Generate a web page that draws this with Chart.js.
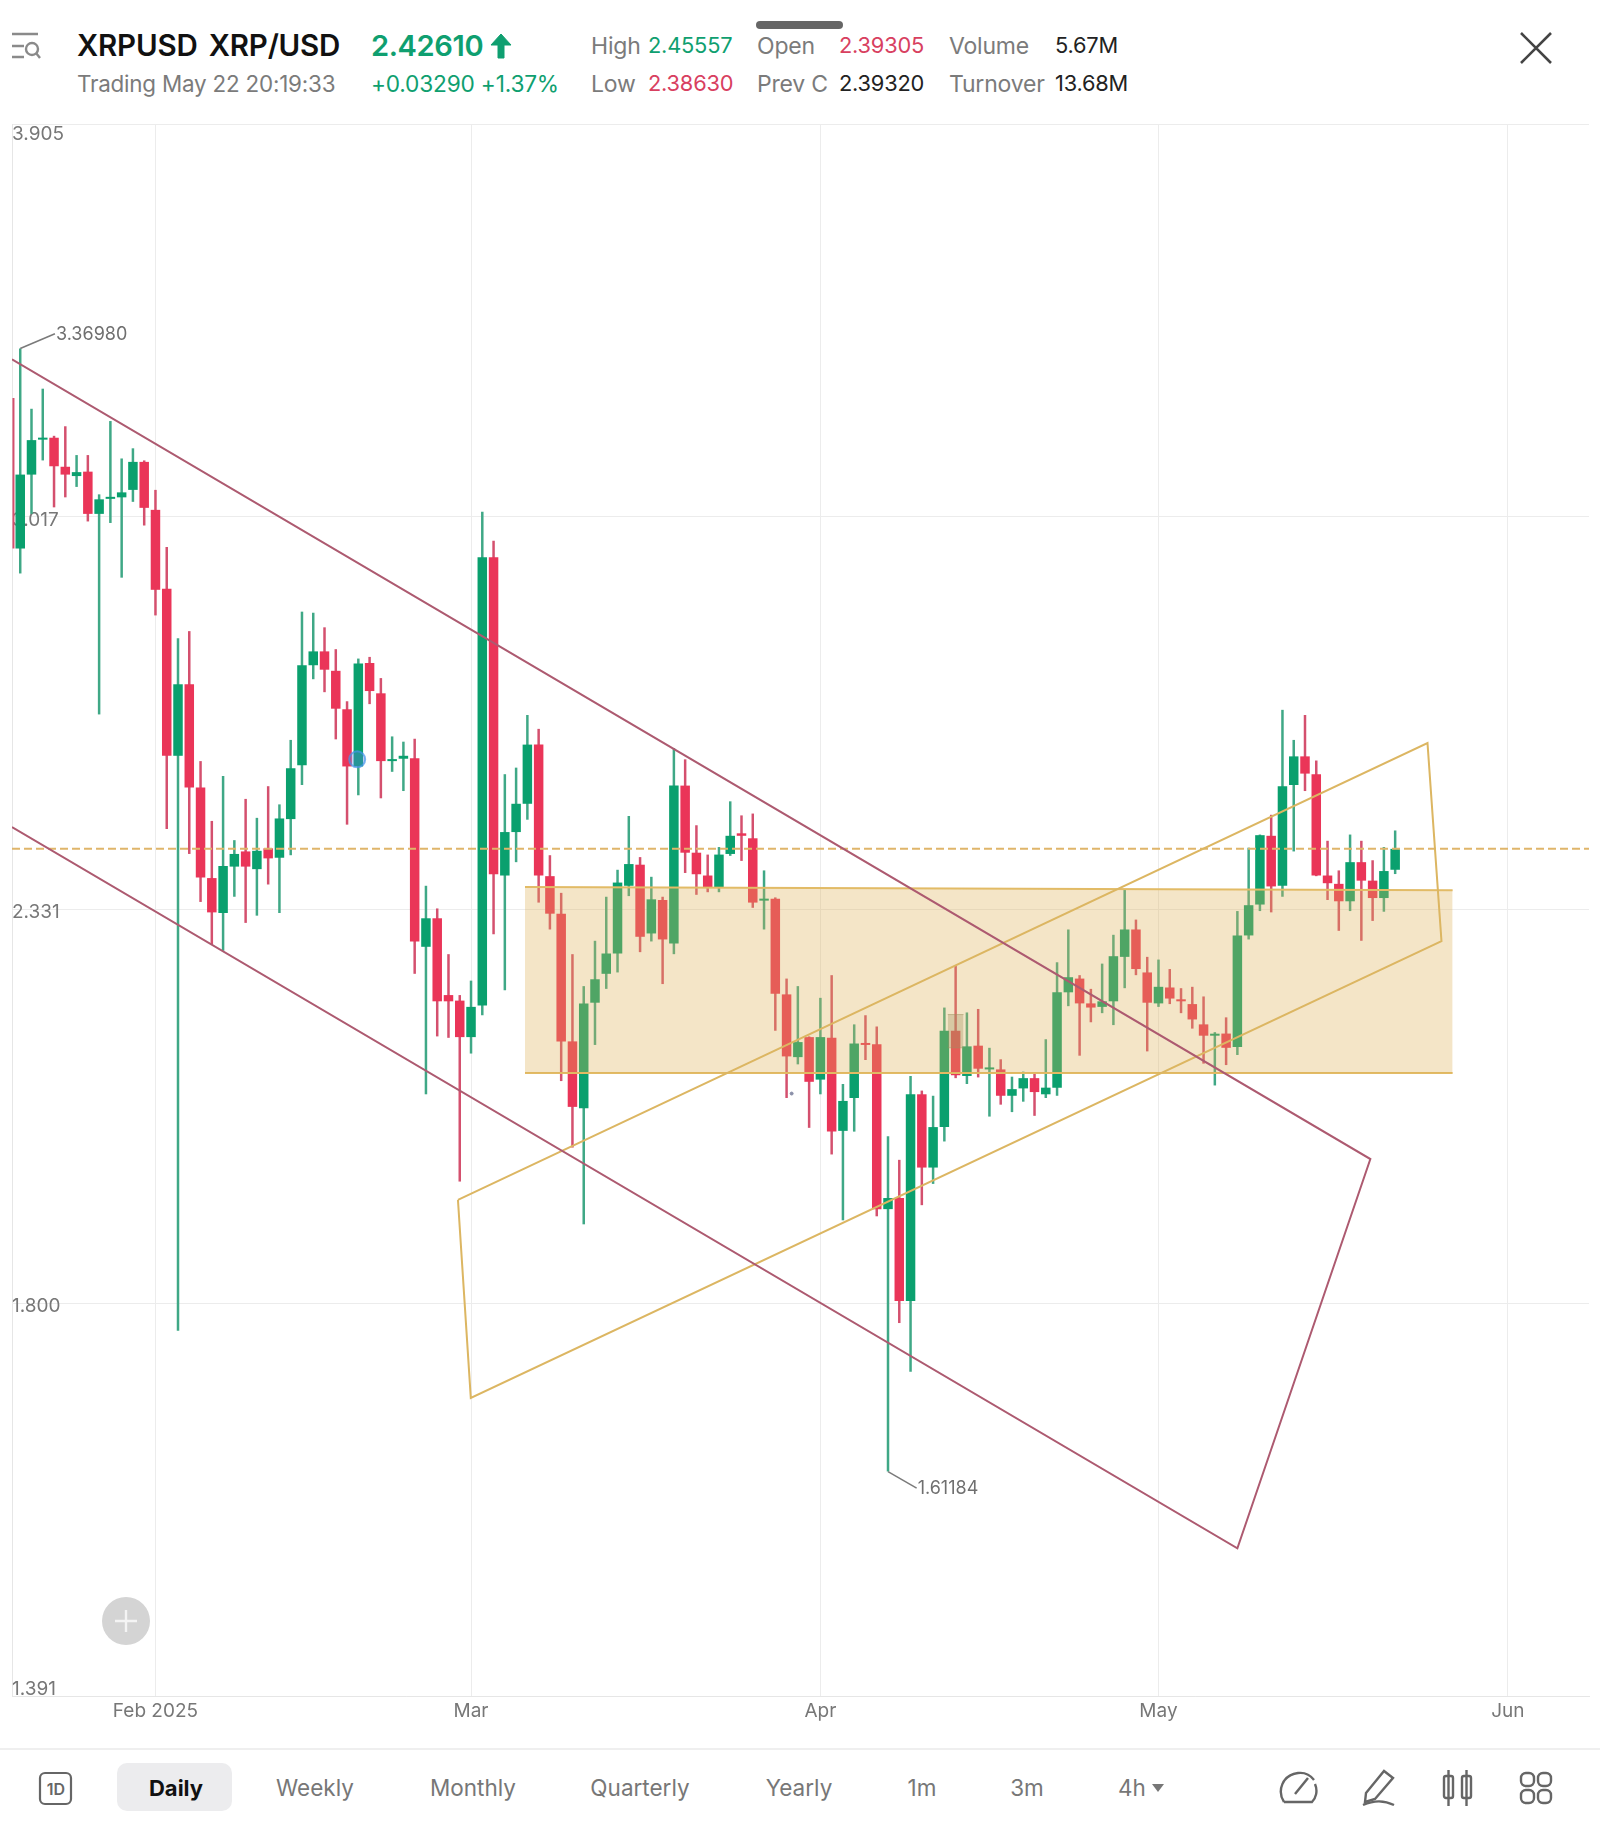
<!DOCTYPE html>
<html>
<head>
<meta charset="utf-8">
<title>XRPUSD</title>
<script src="https://cdn.jsdelivr.net/npm/chart.js@4"></script>
<style>
  html, body { margin: 0; background: #fff; }
  body { position: relative; width: 1600px; height: 1827px; overflow: hidden; font-family: Inter, sans-serif; }
  #chart { position: absolute; left: 0; top: 110px; }
  .t { position: absolute; white-space: nowrap; transform: translateY(-50%); line-height: 1; }
  .c { transform: translate(-50%, -50%); }
  .r1 { top: 46px; } .r2 { top: 84px; }
  .s { font-size: 23px; color: #7b7b7b; letter-spacing: -0.2px; }
  .n { font-size: 21.8px; }
  .up { color: #0f9f70; } .dn { color: #d8405f; } .bk { color: #222; }
  .tab { top: 1788px; font-size: 22.500px; color: #777; }
  svg { position: absolute; fill: none; }
</style>
</head>
<body>
<svg style="left:10px;top:30px" width="34" height="32" stroke="#8a8a8a" stroke-width="2.4">
  <path d="M2 4h26M2 16h12M2 27h12"/><circle cx="22" cy="19" r="6"/><path d="M26 23l4 5"/>
</svg>
<span class="t r1" style="left:77px;font-size:29.500px;font-weight:600;color:#111;letter-spacing:-0.2px;word-spacing:4px">XRPUSD XRP/USD</span>
<span class="t r1" style="left:371px;font-size:29.100px;font-weight:600;color:#0f9f70;letter-spacing:-0.4px">2.42610</span>
<svg style="left:489px;top:32px" width="24" height="28" fill="#0f9f70" stroke="#0f9f70" stroke-width="1">
  <path fill="#0f9f70" d="M12 2L22 13H15V26H9V13H2Z"/>
</svg>
<span class="t r2 s" style="left:77px;font-size:22.400px">Trading May 22 20:19:33</span>
<span class="t r2 up" style="left:371px;font-size:22.700px;letter-spacing:-0.2px">+0.03290 +1.37%</span>

<span class="t r1 s" style="left:591px">High</span><span class="t r1 s n up" style="left:648px">2.45557</span>
<span class="t r2 s" style="left:591px">Low</span><span class="t r2 s n dn" style="left:648px">2.38630</span>
<span class="t r1 s" style="left:757px">Open</span><span class="t r1 s n dn" style="left:839px">2.39305</span>
<span class="t r2 s" style="left:757px">Prev C</span><span class="t r2 s n bk" style="left:839px">2.39320</span>
<span class="t r1 s" style="left:949px">Volume</span><span class="t r1 s n bk" style="left:1055px">5.67M</span>
<span class="t r2 s" style="left:949px">Turnover</span><span class="t r2 s n bk" style="left:1055px">13.68M</span>

<div style="position:absolute;left:756px;top:21px;width:87px;height:8px;border-radius:4px;background:#666"></div>
<svg style="left:1518px;top:30px" width="36" height="36" stroke="#444" stroke-width="2.6"><path d="M3 3L33 33M33 3L3 33"/></svg>

<canvas id="chart" width="1600" height="1640"></canvas>

<div style="position:absolute;left:102px;top:1597px;width:48px;height:48px;border-radius:50%;background:#d4d4d4"></div>
<svg style="left:114px;top:1609px" width="24" height="24" stroke="#f4f4f4" stroke-width="2.4"><path d="M12 1V23M1 12H23"/></svg>

<div style="position:absolute;left:0;top:1748px;width:1600px;height:2px;background:#efefef"></div>
<svg style="left:38px;top:1771px" width="36" height="36" stroke="#666" stroke-width="2.2"><rect x="2" y="2" width="31" height="31" rx="5"/></svg>
<span class="t c" style="left:56px;top:1789px;font-size:16px;font-weight:600;color:#666">1D</span>
<div style="position:absolute;left:117px;top:1763px;width:115px;height:48px;border-radius:10px;background:#ececee"></div>
<span class="t tab c" style="left:176px;font-size:22px;font-weight:700;color:#111">Daily</span>
<span class="t tab c" style="left:315px">Weekly</span>
<span class="t tab c" style="left:473px">Monthly</span>
<span class="t tab c" style="left:640px">Quarterly</span>
<span class="t tab c" style="left:799px">Yearly</span>
<span class="t tab c" style="left:922px">1m</span>
<span class="t tab c" style="left:1027px">3m</span>
<span class="t tab c" style="left:1132px">4h</span>
<svg style="left:1151px;top:1783px" width="14" height="10"><path fill="#777" d="M1 1H13L7 9Z"/></svg>

<svg style="left:1278px;top:1769px" width="40" height="38" stroke="#666" stroke-width="2.4">
  <path d="M6 33C-1 22 4 6 20 4C28 3 33 7 36 11M37 15C40 22 38 29 34 33H6"/><path d="M17 25L30 9"/>
</svg>
<svg style="left:1360px;top:1767px" width="38" height="40" stroke="#666" stroke-width="2.4">
  <path d="M6 26L24 4L33 11L15 32L5 35Z"/><path d="M3 38C12 34 22 32 34 38"/>
</svg>
<svg style="left:1440px;top:1768px" width="36" height="40" stroke="#666" stroke-width="2.4">
  <rect x="4" y="8" width="9" height="22" rx="2"/><rect x="22" y="8" width="9" height="22" rx="2"/>
  <path d="M8.500 2V38M26.500 2V38"/>
</svg>
<svg style="left:1519px;top:1771px" width="34" height="34" stroke="#666" stroke-width="2.4">
  <rect x="2" y="2" width="13" height="13" rx="5"/><rect x="19" y="2" width="13" height="13" rx="5"/>
  <rect x="2" y="19" width="13" height="13" rx="5"/><rect x="19" y="19" width="13" height="13" rx="5"/>
</svg>

<script>
// candles are one per day, day 0 = Feb 1 2025, first one is Jan 20
const firstDay = -12;
const opens = [
  2.955,3.102,3.174,3.178,3.118,3.099,3.108,3.023,3.053,3.056,
  3.071,3.128,3.031,2.878,2.579,2.703,2.526,2.380,2.326,2.398,
  2.422,2.394,2.427,2.412,2.474,2.563,2.737,2.762,2.727,2.659,
  2.561,2.741,2.687,2.570,2.574,2.575,2.275,2.318,2.204,2.196,
  2.144,2.189,2.938,2.384,2.453,2.499,2.598,2.383,2.325,2.138,
  2.046,2.193,2.235,2.265,2.368,2.401,2.295,2.346,2.280,2.529,
  2.420,2.384,2.365,2.418,2.451,2.443,2.345,2.348,2.205,2.116,
  2.144,2.085,2.143,2.016,2.060,2.135,2.134,1.915,1.929,1.803,
  2.065,1.968,2.021,2.153,2.090,2.132,2.099,2.099,2.063,2.073,
  2.087,2.065,2.074,2.208,2.228,2.192,2.187,2.195,2.260,2.301,
  2.237,2.192,2.215,2.197,2.191,2.162,2.146,2.149,2.130,2.292,
  2.339,2.447,2.368,2.530,2.578,2.548,2.384,2.371,2.344,2.405,
  2.376,2.349,2.39305,
];
const closes = [
  3.102,3.173,3.176,3.119,3.102,3.107,3.023,3.052,3.056,3.066,
  3.128,3.035,2.876,2.579,2.703,2.526,2.381,2.327,2.399,2.418,
  2.398,2.423,2.411,2.475,2.558,2.737,2.762,2.729,2.660,2.561,
  2.740,2.691,2.570,2.573,2.579,2.283,2.318,2.195,2.195,2.144,
  2.187,2.938,2.386,2.453,2.499,2.598,2.384,2.325,2.138,2.048,
  2.192,2.227,2.265,2.373,2.402,2.290,2.347,2.286,2.529,2.420,
  2.386,2.365,2.417,2.447,2.447,2.342,2.347,2.206,2.117,2.137,
  2.082,2.144,2.015,2.056,2.135,2.133,1.915,1.929,1.803,2.065,
  1.968,2.021,2.153,2.091,2.131,2.100,2.101,2.063,2.072,2.087,
  2.068,2.074,2.208,2.230,2.192,2.186,2.195,2.261,2.301,2.242,
  2.193,2.216,2.199,2.195,2.169,2.146,2.148,2.129,2.292,2.338,
  2.448,2.367,2.528,2.578,2.549,2.384,2.372,2.344,2.405,2.376,
  2.349,2.391,2.4261,
];
const highs = [
  3.3698,3.239,3.282,3.182,3.202,3.142,3.142,3.062,3.213,3.135,
  3.156,3.131,3.071,2.958,2.786,2.799,2.570,2.471,2.545,2.440,
  2.507,2.476,2.528,2.498,2.606,2.835,2.833,2.806,2.766,2.673,
  2.749,2.752,2.714,2.612,2.603,2.608,2.368,2.333,2.264,2.204,
  2.225,3.027,2.970,2.548,2.559,2.649,2.625,2.416,2.357,2.264,
  2.217,2.284,2.351,2.393,2.479,2.413,2.382,2.351,2.592,2.573,
  2.464,2.417,2.429,2.503,2.480,2.483,2.392,2.350,2.228,2.217,
  2.145,2.200,2.233,2.079,2.162,2.175,2.159,2.009,1.978,2.090,
  2.070,2.063,2.186,2.247,2.179,2.184,2.129,2.113,2.089,2.096,
  2.093,2.141,2.252,2.301,2.233,2.213,2.250,2.293,2.363,2.316,
  2.260,2.256,2.242,2.214,2.216,2.202,2.151,2.172,2.329,2.428,
  2.449,2.481,2.658,2.606,2.649,2.571,2.439,2.392,2.449,2.439,
  2.408,2.429,2.45557,
];
const lows = [
  2.907,3.023,3.131,3.036,3.056,3.077,3.008,2.650,3.005,2.899,
  3.047,3.000,2.828,2.458,1.768,2.418,2.343,2.278,2.269,2.351,
  2.311,2.322,2.370,2.326,2.416,2.530,2.712,2.689,2.607,2.465,
  2.513,2.668,2.508,2.552,2.520,2.235,2.065,2.145,2.143,1.950,
  2.121,2.175,2.294,2.211,2.405,2.473,2.342,2.301,2.083,1.994,
  1.896,2.133,2.213,2.237,2.352,2.267,2.283,2.220,2.264,2.388,
  2.354,2.358,2.358,2.415,2.407,2.334,2.301,2.153,2.060,2.106,
  2.020,2.065,1.985,1.901,2.015,2.112,1.906,1.61184,1.777,1.721,
  1.920,1.947,2.002,2.087,2.079,2.088,2.035,2.051,2.041,2.055,
  2.036,2.060,2.063,2.188,2.118,2.165,2.178,2.161,2.214,2.233,
  2.124,2.187,2.191,2.178,2.156,2.107,2.077,2.105,2.119,2.286,
  2.329,2.327,2.351,2.422,2.520,2.383,2.346,2.299,2.329,2.284,
  2.314,2.328,2.3863,
];

const priceTicks = [3.905, 3.017, 2.331, 1.8, 1.391];
const monthDays = [0, 28, 59, 89, 120];
const monthLabels = ["Feb 2025", "Mar", "Apr", "May", "Jun"];
const lastPrice = 2.4261;

// wick of the candle cut off by the left edge
const edgeWick = [{ x: -12.6, y: 3.262 }, { x: -12.6, y: 2.955 }];

// drawings on the chart, in [day, price]
const redChannel = [[-12.73, 3.346], [107.8, 1.979], [96.0, 1.5326], [-12.73, 2.461]];
const yellowChannel = [[26.84, 1.9267], [112.87, 2.6005], [114.11, 2.2833], [27.98, 1.6918], [26.84, 1.9267]];
const zoneTop = [[32.79, 2.366], [115.1, 2.361]];
const zoneBottom = [[32.79, 2.094], [115.1, 2.094]];
const markTop = [[70.3, 2.176], [71.7, 2.176]];
const markBottom = [[70.3, 2.129], [71.7, 2.129]];
const touchDot = [[17.9, 2.573]];
const specDot = [[56.45, 2.066]];
const peakLeaders = [
  [[-12, 3.3698], [-8.92, 3.4025]],
  [[65, 1.61184], [67.54, 1.5945]],
];
const peakLabels = ["3.36980", "1.61184"];

const GREEN = "#0aa06e";
const RED = "#ea3558";
const GREEN_WICK = "#3fa886";
const RED_WICK = "#d4506e";

const pts = (list) => list.map(([x, y]) => ({ x, y }));
const isUp = (i) => closes[i] >= opens[i];

const lineSet = (list, color, width, extra) => ({
  type: "line",
  data: pts(list),
  borderColor: color,
  borderWidth: width,
  pointRadius: 0,
  tension: 0,
  fill: false,
  order: 2,
  ...extra,
});

// leader lines end at the value labels
const peakLabelPlugin = {
  id: "peakLabels",
  afterDatasetsDraw(chart) {
    const { ctx, scales } = chart;
    ctx.save();
    ctx.font = "18px Inter, sans-serif";
    ctx.fillStyle = "#6f6f6f";
    ctx.textBaseline = "middle";
    peakLabels.forEach((label, i) => {
      const end = peakLeaders[i][1];
      ctx.fillText(label, scales.x.getPixelForValue(end[0]) + 1, scales.y.getPixelForValue(end[1]) + 1);
    });
    ctx.restore();
  },
};

new Chart(document.getElementById("chart"), {
  data: {
    datasets: [
      {
        type: "bar",
        data: opens.map((_, i) => ({ x: firstDay + i, y: [lows[i], highs[i]] })),
        backgroundColor: opens.map((_, i) => (isUp(i) ? GREEN_WICK : RED_WICK)),
        grouped: false,
        maxBarThickness: 2.5,
        barPercentage: 0.9,
        categoryPercentage: 1,
        order: 6,
      },
      {
        type: "bar",
        data: opens.map((_, i) => ({ x: firstDay + i, y: [opens[i], closes[i]] })),
        backgroundColor: opens.map((_, i) => (isUp(i) ? GREEN : RED)),
        grouped: false,
        maxBarThickness: 9.5,
        minBarLength: 2,
        barPercentage: 0.9,
        categoryPercentage: 1,
        order: 5,
      },
      {
        type: "line",
        data: edgeWick,
        borderColor: RED_WICK,
        borderWidth: 2,
        pointRadius: 0,
        order: 6,
      },
      lineSet(zoneTop, "#e2bb66", 2, { fill: "+1", backgroundColor: "rgba(221,175,84,0.33)", order: 3 }),
      lineSet(zoneBottom, "#e2bb66", 2, { order: 3 }),
      lineSet(markTop, "rgba(130,130,100,0.5)", 1, { fill: "+1", backgroundColor: "rgba(130,130,100,0.35)", order: 3 }),
      lineSet(markBottom, "rgba(130,130,100,0.5)", 1, { order: 3 }),
      lineSet(redChannel, "#ad5a70", 2),
      lineSet(yellowChannel, "#dcb662", 2),
      lineSet([[-12.73, lastPrice], [127.2, lastPrice]], "#dfb56a", 2, { borderDash: [8, 4] }),
      lineSet(peakLeaders[0], "#7a7a7a", 1.5),
      lineSet(peakLeaders[1], "#7a7a7a", 1.5),
      lineSet(touchDot, "rgba(70,140,230,0.7)", 2, {
        showLine: false,
        pointRadius: 8,
        pointBackgroundColor: "rgba(90,130,230,0.35)",
        pointBorderColor: "rgba(70,150,235,0.7)",
        pointBorderWidth: 2,
      }),
      lineSet(specDot, "#8a8fa8", 1, { showLine: false, pointRadius: 1.5, pointBackgroundColor: "#8a8fa8" }),
    ],
  },
  options: {
    responsive: false,
    animation: false,
    layout: { padding: { left: 12, right: 11, top: 14, bottom: 0 } },
    plugins: { legend: { display: false }, tooltip: { enabled: false } },
    scales: {
      x: {
        type: "linear",
        min: -12.73,
        max: 127.2,
        offset: false,
        afterBuildTicks: (axis) => {
          axis.ticks = monthDays.map((value) => ({ value }));
        },
        afterFit: (axis) => {
          axis.height = 54;
          axis.paddingLeft = 0;
          axis.paddingRight = 0;
        },
        grid: { offset: false, color: "#ececec", lineWidth: 1, drawTicks: false },
        border: { color: "#e6e6e6" },
        ticks: {
          autoSkip: false,
          maxRotation: 0,
          padding: 4,
          color: "#777",
          font: { family: "Inter", size: 19 },
          callback: (value) => monthLabels[monthDays.indexOf(value)],
        },
      },
      y: {
        type: "logarithmic",
        min: 1.391,
        max: 3.905,
        afterBuildTicks: (axis) => {
          axis.ticks = priceTicks.map((value) => ({ value }));
        },
        afterFit: (axis) => {
          axis.width = 0;
          axis.paddingTop = 0;
          axis.paddingBottom = 0;
        },
        grid: { color: "#ececec", lineWidth: 1, drawTicks: false },
        border: { color: "#e6e6e6" },
        ticks: {
          mirror: true,
          padding: 0,
          labelOffset: 3,
          color: "#777",
          // end labels use a different line gap, see the empty line below
          font: (ctx) => {
            const value = ctx.tick && ctx.tick.value;
            let lineHeight = 1.2;
            if (value === priceTicks[0]) lineHeight = 0.8;
            if (value === priceTicks[priceTicks.length - 1]) lineHeight = 0.98;
            return { family: "Inter", size: 19, lineHeight };
          },
          // empty line pushes the end labels inside the plot
          callback: (value) => {
            const label = value.toFixed(3);
            if (value === priceTicks[0]) return ["", label];
            if (value === priceTicks[priceTicks.length - 1]) return [label, ""];
            return label;
          },
        },
      },
    },
  },
  plugins: [peakLabelPlugin],
});
</script>
</body>
</html>
